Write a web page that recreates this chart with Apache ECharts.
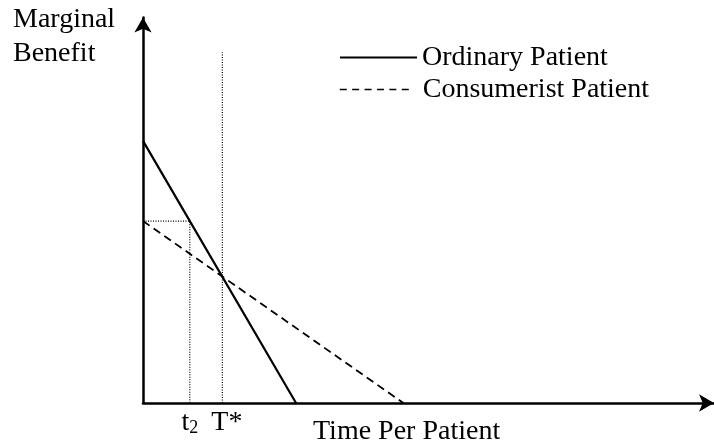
<!DOCTYPE html>
<html>
<head>
<meta charset="utf-8">
<script src="https://cdn.jsdelivr.net/npm/echarts@6/dist/echarts.min.js"></script>
<style>
  html, body { margin: 0; padding: 0; background: #fff; }
  #main { width: 714px; height: 448px; }
</style>
</head>
<body>
<div id="main"></div>
<script>
// axis domain (arbitrary units, both axes 0..100)
const xRange = [0, 100];
const yRange = [0, 100];

// marginal benefit curves: [time, benefit]
const ordinaryPatient = [[0, 68], [26.8, 0]];
const consumeristPatient = [[0, 47.2], [45.6, 0]];

// dotted guides
const tStarGuide = [[13.9, 0], [13.9, 91]];
const t2Guide = [[0, 47.2], [8.2, 47.2], [8.2, 0]];

// x tick marks
const tickValues = [8.2, 13.9];
const tickLabels = ['{t|t}{s|2}', '{t2|T*}'];

const seriesNames = ['Ordinary Patient', 'Consumerist Patient'];

(function () {
    const serif = "'Liberation Serif', 'Times New Roman', serif";
    let myChart = echarts.init(document.getElementById('main'));

    let option = {
        animation: false,
        backgroundColor: '#fff',
        grid: { left: 143, right: -3.5, top: 17.5, bottom: 45 },
        legend: [
            {
                data: [seriesNames[0]],
                left: 339, top: 43.5, padding: 0,
                itemWidth: 77, itemHeight: 14,
                textStyle: { fontFamily: serif, fontSize: 28, color: '#000' },
                lineStyle: { width: 2, type: 'solid' },
                itemStyle: { opacity: 0 }
            },
            {
                data: [seriesNames[1]],
                left: 339, top: 75.5, padding: 0,
                itemWidth: 74, itemHeight: 14,
                textStyle: { fontFamily: serif, fontSize: 28, color: '#000', padding: [0, 0, 0, 4] },
                lineStyle: { width: 1.5, type: [7, 5.4] },
                itemStyle: { opacity: 0 }
            }
        ],
        xAxis: {
            type: 'value',
            min: xRange[0], max: xRange[1],
            splitLine: { show: false },
            axisTick: { show: false },
            axisLine: {
                lineStyle: { color: '#000', width: 2.5 },
                symbol: ['none', 'arrow'],
                symbolSize: [13, 15]
            },
            axisLabel: {
                customValues: tickValues,
                margin: 6,
                color: '#000',
                formatter: function (v) {
                    let idx = 0;
                    tickValues.forEach((c, i) => {
                        if (Math.abs(c - v) < Math.abs(tickValues[idx] - v)) idx = i;
                    });
                    return tickLabels[idx];
                },
                rich: {
                    t: { fontFamily: serif, fontSize: 28, color: '#000' },
                    t2: { fontFamily: serif, fontSize: 28, color: '#000', padding: [0, 0, 0, 9] },
                    s: { fontFamily: serif, fontSize: 18, color: '#000', padding: [10, 0, 0, 0] }
                }
            }
        },
        yAxis: {
            type: 'value',
            min: yRange[0], max: yRange[1],
            splitLine: { show: false },
            axisTick: { show: false },
            axisLabel: { show: false },
            axisLine: {
                lineStyle: { color: '#000', width: 2.5 },
                symbol: ['none', 'arrow'],
                symbolSize: [13, 15]
            }
        },
        graphic: [
            { type: 'text', left: 13, top: 6, style: { text: 'Marginal', font: '28px ' + serif, fill: '#000' } },
            { type: 'text', left: 13, top: 40, style: { text: 'Benefit', font: '28px ' + serif, fill: '#000' } },
            { type: 'text', left: 313, top: 418, style: { text: 'Time Per Patient', font: '28px ' + serif, fill: '#000' } }
        ],
        series: [
            {
                name: seriesNames[0],
                type: 'line',
                symbol: 'none',
                data: ordinaryPatient,
                lineStyle: { color: '#000', width: 2.2 },
                itemStyle: { color: '#000' },
                z: 5
            },
            {
                name: seriesNames[1],
                type: 'line',
                symbol: 'none',
                data: consumeristPatient,
                lineStyle: { color: '#000', width: 1.8, type: [8, 5] },
                itemStyle: { color: '#000' },
                z: 5
            },
            {
                name: 'tStar',
                type: 'line',
                symbol: 'none',
                data: tStarGuide,
                lineStyle: { color: '#000', width: 1.2, type: [1, 1.5] },
                z: 3
            },
            {
                name: 't2',
                type: 'line',
                symbol: 'none',
                data: t2Guide,
                lineStyle: { color: '#000', width: 1.2, type: [1, 1.5] },
                z: 3
            }
        ]
    };
    myChart.setOption(option);
})();
</script>
</body>
</html>
